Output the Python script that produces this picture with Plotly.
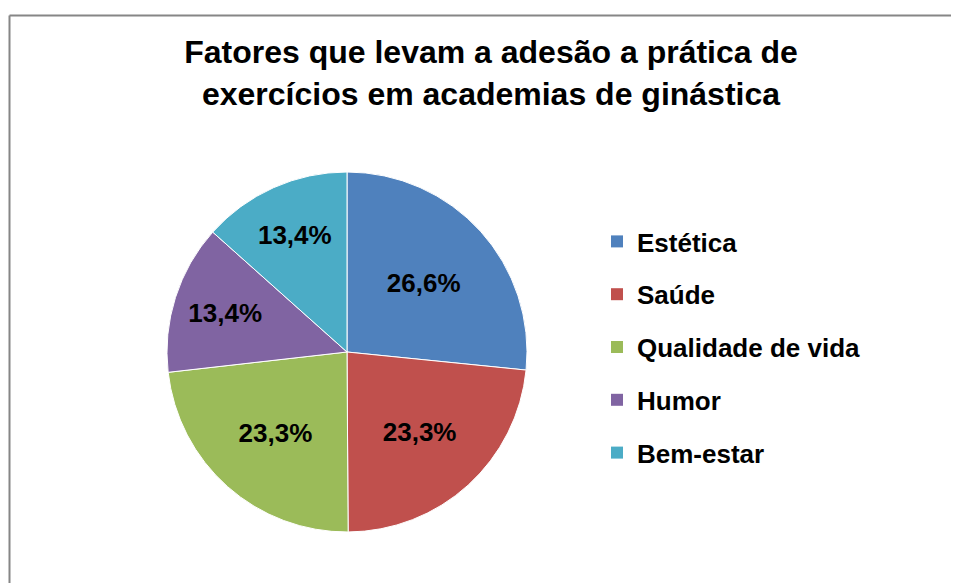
import plotly.graph_objects as go

labels = ["Estética", "Saúde", "Qualidade de vida", "Humor", "Bem-estar"]
values = [26.6, 23.3, 23.3, 13.4, 13.4]
colors = ["#4F81BD", "#C0504D", "#9BBB59", "#8064A2", "#4BACC6"]
title_text = "Fatores que levam a adesão a prática de<br>exercícios em academias de ginástica"

OFF = 8  # page body margin offset
W, H = 959 - OFF, 583 - OFF
FONT = "Arial, Liberation Sans, sans-serif"


def px_x(x):
    return (x - OFF) / W


def px_y(y):
    return 1 - (y - OFF) / H


fig = go.Figure()
fig.add_trace(go.Pie(
    labels=labels, values=values, sort=False, direction="clockwise", rotation=0,
    marker=dict(colors=colors, line=dict(color="white", width=1)),
    texttemplate="%{value:.1f}%", textposition="inside",
    insidetextorientation="horizontal",
    textfont=dict(family=FONT, size=26, color="black", weight="bold"),
    domain=dict(x=[px_x(167), px_x(527)], y=[px_y(532), px_y(172)]),
    showlegend=False, hoverinfo="label+percent",
))
for lab, col in zip(labels, colors):
    fig.add_trace(go.Scatter(
        x=[None], y=[None], mode="markers", name=lab, legendgroup=lab,
        marker=dict(symbol="square", size=12, color=col),
        showlegend=True,
    ))

border = dict(color="#868686", width=2)
fig.update_layout(
    width=W, height=H,
    margin=dict(l=0, r=0, t=0, b=0),
    paper_bgcolor="white", plot_bgcolor="white",
    separators=",.",
    uniformtext=dict(minsize=26, mode="show"),
    title=dict(text=title_text, x=px_x(491), xanchor="center", y=px_y(63), yanchor="top",
               font=dict(family=FONT, size=32, color="black", weight="bold")),
    xaxis=dict(visible=False), yaxis=dict(visible=False),
    legend=dict(x=px_x(597), xanchor="left", y=px_y(218), yanchor="top",
                font=dict(family=FONT, size=26, color="black", weight="bold"),
                tracegroupgap=16, bgcolor="rgba(0,0,0,0)"),
    shapes=[
        dict(type="line", xref="paper", yref="paper",
             x0=px_x(9.5), x1=1.0, y0=px_y(15.5), y1=px_y(15.5), line=border, layer="below"),
        dict(type="line", xref="paper", yref="paper",
             x0=px_x(9.5), x1=px_x(9.5), y0=0.0, y1=px_y(15.5), line=border, layer="below"),
    ],
)
fig.write_html("out.html")
